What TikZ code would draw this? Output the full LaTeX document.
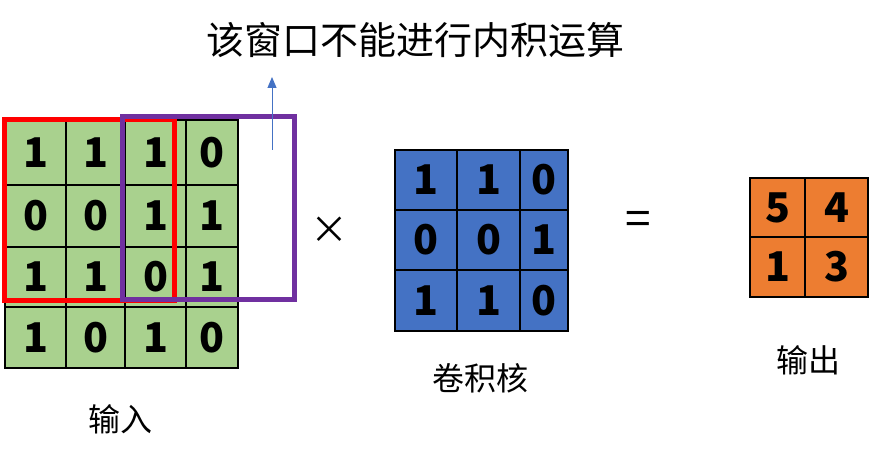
\documentclass[tikz,border=0pt]{standalone}
\usepackage{fontspec}
\setmainfont{Noto Sans CJK SC}
\usetikzlibrary{arrows.meta}
\definecolor{ingreen}{HTML}{A9D18E}
\definecolor{kblue}{HTML}{4472C4}
\definecolor{outorange}{HTML}{ED7D31}
\definecolor{winred}{HTML}{FF0000}
\definecolor{winpurple}{HTML}{7030A0}
\definecolor{arrblue}{HTML}{4472C4}
\newcommand\mkgrid[7]{%
  \foreach \r in {1,...,#5}{%
    \foreach \c in {1,...,#4}{%
      \pgfmathsetmacro\xa{#2[\c-1]}%
      \pgfmathsetmacro\xb{#2[\c]}%
      \pgfmathsetmacro\ya{#3[\r-1]}%
      \pgfmathsetmacro\yb{#3[\r]}%
      \pgfmathtruncatemacro\dg{#6[(\r-1)*#4+\c-1]}%
      \node[cellbox, fill=#7, minimum width=\xb-\xa, minimum height=\yb-\ya]
        (#1-\r-\c) at ({(\xa+\xb)/2},{(\ya+\yb)/2}) {\dg};
    }%
  }%
}
\begin{document}
\begin{tikzpicture}[x=1pt,y=-1pt,
  cellbox/.style={draw=black, line width=1.5pt, inner sep=0pt, outer sep=0pt,
    font=\fontsize{41}{41}\selectfont\bfseries},
  window/.style={line width=5pt},
  label/.style={inner sep=0pt, font=\fontsize{32}{32}\selectfont},
  titlelab/.style={inner sep=0pt, font=\fontsize{38}{38}\selectfont},
  oplab/.style={inner sep=0pt, font=\fontsize{38}{38}\selectfont},
  eqlab/.style={inner sep=0pt, font=\fontsize{46}{46}\selectfont}]
\useasboundingbox (0,0) rectangle (874,462);
% input
\mkgrid{in}{{5,66,125,186,238}}{{120,185,247,307,368}}{4}{4}{{1,1,1,0,0,0,1,1,1,1,0,1,1,0,1,0}}{ingreen}
% kernel
\mkgrid{k}{{395,457,520,568}}{{150,210,270,331}}{3}{3}{{1,1,0,0,0,1,1,1,0}}{kblue}
% output
\mkgrid{out}{{750,805,868}}{{178,237,297}}{2}{2}{{5,4,1,3}}{outorange}
% windows
\draw[window, winred] (4.5,120) rectangle (174,300);
\draw[window, winpurple] (122,117) rectangle (294,299);
% arrow and title
\coordinate (arrfrom) at (272,150);
\coordinate (arrto) at (272,77);
\draw[arrblue, line width=1pt, -{Triangle[width=9pt,length=11pt]}] (arrfrom) -- (arrto);
\node[titlelab] (title) at (415,40) {该窗口不能进行内积运算};
% operators
\node[oplab] (times) at (329,230) {×};
\node[eqlab] (equals) at (638,223) {=};
% labels
\node[label] (inlab) at (120,419) {输入};
\node[label] (klab) at (480,378) {卷积核};
\node[label] (outlab) at (808,360) {输出};
\end{tikzpicture}
\end{document}
